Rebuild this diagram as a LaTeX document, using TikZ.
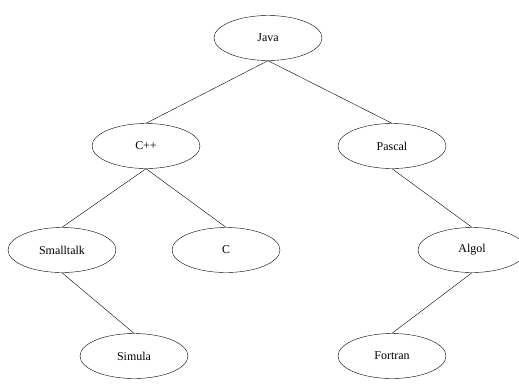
\documentclass[tikz,border=0pt]{standalone}
\usepackage{fontspec}
\setmainfont{Liberation Serif}
\usepackage{tikz}
\usetikzlibrary{shapes.geometric}

\tikzset{
  lang/.style={draw, ellipse, thin, minimum width=108bp, minimum height=45bp,
    inner sep=0pt, font=\fontsize{12}{14}\selectfont},
  link/.style={thin}
}

\begin{document}
\begin{tikzpicture}[x=1bp, y=-1bp]
\useasboundingbox (0,0) rectangle (519,389);

% Languages
\node[lang] (java) at (268,38) {Java};
\node[lang] (cpp) at (146,146) {C++};
\node[lang] (pascal) at (392,146) {Pascal};
\node[lang] (smalltalk) at (62,250) {Smalltalk};
\node[lang] (c) at (226,250) {C};
\node[lang] (algol) at (472,250) {Algol};
\node[lang] (simula) at (134,356) {Simula};
\node[lang] (fortran) at (392,356) {Fortran};

% Links
\draw[link] (java.south) -- (cpp.north);
\draw[link] (java.south) -- (pascal.north);
\draw[link] (cpp.south) -- (smalltalk.north);
\draw[link] (cpp.south) -- (c.north);
\draw[link] (pascal.south) -- (algol.north);
\draw[link] (smalltalk.south) -- (simula.north);
\draw[link] (algol.south) -- (fortran.north);

\end{tikzpicture}
\end{document}
